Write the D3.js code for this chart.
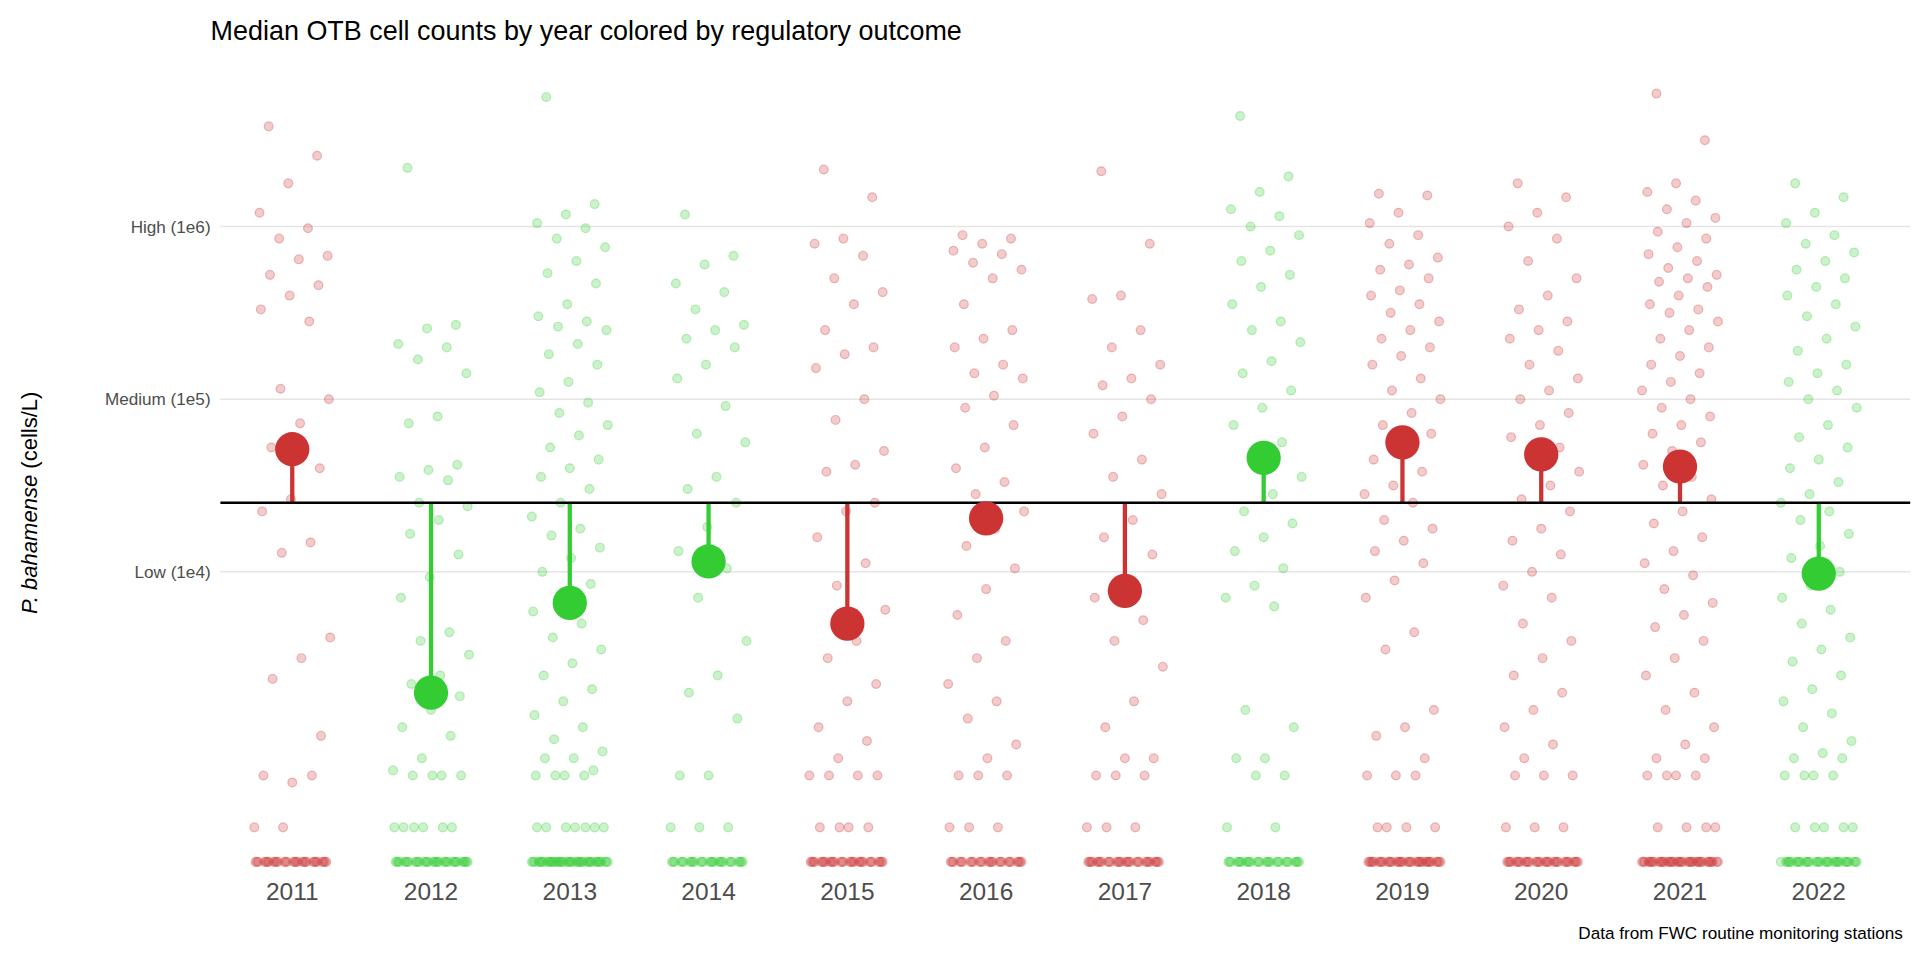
<!DOCTYPE html>
<html>
<head>
<meta charset="utf-8">
<script src="https://cdn.jsdelivr.net/npm/d3@7"></script>
<style>
  body { margin: 0; background: #fff; font-family: "Liberation Sans", Arial, sans-serif; }
</style>
</head>
<body>
<div id="chart"></div>
<script>
// anos e resultado regulatorio
const years = ["2011","2012","2013","2014","2015","2016","2017","2018","2019","2020","2021","2022"];
const outcome = ["red","green","green","green","red","red","red","green","red","red","red","green"];
// mediana em log10(celulas/L)
const medians = [4.71, 3.30, 3.82, 4.06, 3.70, 4.31, 3.89, 4.66, 4.75, 4.68, 4.61, 3.99];
const threshold = 4.40;
// zeros / valores baixos desenhados no fundo (quantidade por ano)
const zeroCounts = [30, 34, 44, 28, 30, 26, 30, 28, 36, 32, 40, 34];

// contagens individuais (log10 celulas/L)
const samples = {
  "2011": [6.58,6.41,6.25,6.08,5.99,5.93,5.83,5.81,5.72,5.66,5.60,5.52,5.45,5.06,5.00,4.86,4.72,4.60,4.42,4.35,4.17,4.11,3.62,3.50,3.38,3.05,2.78,2.82,2.82,2.52,2.52],
  "2012": [6.34,5.43,5.41,5.32,5.30,5.23,5.15,4.90,4.86,4.62,4.59,4.55,4.53,4.40,4.38,4.30,4.22,4.10,3.97,3.85,3.65,3.60,3.52,3.40,3.35,3.28,3.20,3.10,3.05,2.92,2.85,2.82,2.82,2.82,2.82,2.52,2.52,2.52,2.52,2.52,2.52],
  "2013": [6.75,6.13,6.07,6.02,5.99,5.93,5.88,5.80,5.73,5.67,5.55,5.48,5.45,5.42,5.40,5.32,5.26,5.20,5.10,5.04,4.98,4.92,4.85,4.79,4.72,4.65,4.60,4.55,4.48,4.40,4.32,4.25,4.21,4.14,4.08,4.00,3.93,3.85,3.77,3.70,3.62,3.55,3.47,3.40,3.32,3.25,3.17,3.10,3.03,2.96,2.92,2.92,2.85,2.82,2.82,2.82,2.82,2.52,2.52,2.52,2.52,2.52,2.52,2.52],
  "2014": [6.07,5.83,5.78,5.67,5.62,5.52,5.43,5.40,5.35,5.30,5.20,5.12,4.96,4.80,4.75,4.55,4.48,4.40,4.26,4.12,4.02,3.85,3.60,3.40,3.30,3.15,2.82,2.82,2.52,2.52,2.52],
  "2015": [6.33,6.17,5.93,5.90,5.83,5.70,5.62,5.55,5.40,5.30,5.26,5.18,5.00,4.88,4.70,4.62,4.58,4.40,4.35,4.20,4.05,3.92,3.78,3.60,3.50,3.35,3.25,3.10,3.02,2.92,2.82,2.82,2.82,2.82,2.52,2.52,2.52,2.52],
  "2016": [5.95,5.93,5.90,5.86,5.84,5.79,5.75,5.70,5.55,5.40,5.35,5.30,5.20,5.15,5.12,5.02,4.95,4.85,4.72,4.60,4.52,4.45,4.35,4.25,4.15,4.02,3.90,3.75,3.60,3.50,3.35,3.25,3.15,3.00,2.92,2.82,2.82,2.82,2.52,2.52,2.52],
  "2017": [6.32,5.90,5.60,5.58,5.40,5.30,5.20,5.12,5.08,5.00,4.90,4.80,4.65,4.55,4.45,4.30,4.20,4.10,3.95,3.85,3.72,3.60,3.45,3.25,3.10,2.92,2.92,2.82,2.82,2.82,2.52,2.52,2.52],
  "2018": [6.64,6.29,6.20,6.10,6.06,6.00,5.95,5.86,5.80,5.72,5.65,5.55,5.45,5.40,5.33,5.22,5.15,5.05,4.95,4.85,4.75,4.65,4.55,4.45,4.35,4.28,4.20,4.12,4.02,3.92,3.85,3.80,3.20,3.10,2.92,2.92,2.82,2.82,2.52,2.52],
  "2019": [6.19,6.18,6.08,6.02,5.95,5.90,5.82,5.78,5.75,5.70,5.63,5.60,5.55,5.50,5.45,5.40,5.35,5.30,5.25,5.20,5.12,5.05,5.00,4.92,4.85,4.80,4.72,4.65,4.58,4.50,4.45,4.40,4.30,4.25,4.18,4.12,4.05,3.95,3.85,3.65,3.55,3.20,3.10,3.05,2.92,2.82,2.82,2.82,2.52,2.52,2.52,2.52],
  "2020": [6.25,6.17,6.08,6.00,5.93,5.80,5.70,5.60,5.52,5.45,5.40,5.35,5.28,5.20,5.12,5.05,5.00,4.92,4.85,4.78,4.72,4.65,4.58,4.50,4.42,4.35,4.25,4.18,4.10,4.00,3.92,3.85,3.70,3.60,3.50,3.40,3.30,3.20,3.10,3.00,2.92,2.82,2.82,2.82,2.52,2.52,2.52],
  "2021": [6.77,6.50,6.25,6.20,6.15,6.10,6.05,6.02,5.97,5.93,5.88,5.84,5.80,5.76,5.72,5.70,5.68,5.65,5.60,5.55,5.52,5.50,5.45,5.40,5.35,5.30,5.25,5.20,5.15,5.10,5.05,5.00,4.95,4.90,4.85,4.80,4.75,4.70,4.62,4.55,4.50,4.42,4.35,4.28,4.20,4.12,4.05,3.98,3.90,3.82,3.75,3.68,3.60,3.50,3.40,3.30,3.20,3.10,3.00,2.92,2.92,2.82,2.82,2.82,2.82,2.52,2.52,2.52,2.52],
  "2022": [6.25,6.17,6.08,6.02,5.95,5.90,5.85,5.80,5.75,5.70,5.65,5.60,5.55,5.48,5.42,5.35,5.28,5.20,5.15,5.10,5.05,5.00,4.95,4.85,4.78,4.72,4.65,4.60,4.52,4.45,4.40,4.35,4.30,4.22,4.15,4.08,4.00,3.92,3.85,3.78,3.70,3.62,3.55,3.48,3.40,3.32,3.25,3.18,3.10,3.02,2.95,2.92,2.92,2.82,2.82,2.82,2.82,2.52,2.52,2.52,2.52,2.52]
};
const yTicks = [4, 5, 6];
const yTickLabels = ["Low (1e4)", "Medium (1e5)", "High (1e6)"];
const zeroLevel = 2.32;

const cores = { red: "#CC3333", green: "#33CC33" };

// desenhado em 1568x784 e escalado para 1920x960
const svg = d3.select("#chart").append("svg")
  .attr("width", 1920).attr("height", 960)
  .attr("viewBox", "0 0 1568 784");

const x = d3.scaleBand().domain(years).range([182, 1542]);
const y = d3.scaleLinear().domain([4, 6]).range([467, 185]);

// grade
svg.selectAll(".grid").data(yTicks).enter().append("line")
  .attr("x1", 180).attr("x2", 1560)
  .attr("y1", d => y(d)).attr("y2", d => y(d))
  .attr("stroke", "#e5e5e5").attr("stroke-width", 1.2);

svg.selectAll(".ytick").data(yTicks).enter().append("text")
  .attr("x", 172).attr("y", d => y(d) + 5)
  .attr("text-anchor", "end").attr("fill", "#4d4d4d")
  .style("font-size", "14px")
  .text((d, i) => yTickLabels[i]);

// deslocamento horizontal (jitter deterministico)
const jit = i => (((i * 37 + 11) % 59) / 58 - 0.5) * 62;

// pontos
years.forEach((yr, k) => {
  const vals = samples[yr].slice();
  for (let z = 0; z < zeroCounts[k]; z++) vals.push(zeroLevel);
  svg.append("g").selectAll("circle").data(vals).enter().append("circle")
    .attr("cx", (d, i) => x(yr) + x.bandwidth() / 2 + jit(i))
    .attr("cy", d => y(d))
    .attr("r", 3.6)
    .attr("fill", cores[outcome[k]])
    .attr("fill-opacity", 0.25)
    .attr("stroke", cores[outcome[k]])
    .attr("stroke-opacity", 0.3);
});

// segmentos da mediana
svg.selectAll(".seg").data(years).enter().append("line")
  .attr("x1", d => x(d) + x.bandwidth() / 2)
  .attr("x2", d => x(d) + x.bandwidth() / 2)
  .attr("y1", y(threshold))
  .attr("y2", (d, i) => y(medians[i]))
  .attr("stroke", (d, i) => cores[outcome[i]])
  .attr("stroke-width", 3.5);

// linha do limite
svg.append("line")
  .attr("x1", 180).attr("x2", 1560)
  .attr("y1", y(threshold)).attr("y2", y(threshold))
  .attr("stroke", "#000").attr("stroke-width", 2);

// medianas
svg.selectAll(".med").data(years).enter().append("circle")
  .attr("cx", d => x(d) + x.bandwidth() / 2)
  .attr("cy", (d, i) => y(medians[i]))
  .attr("r", 14)
  .attr("fill", (d, i) => cores[outcome[i]]);

// eixo x
svg.selectAll(".xlab").data(years).enter().append("text")
  .attr("x", d => x(d) + x.bandwidth() / 2)
  .attr("y", 735)
  .attr("text-anchor", "middle").attr("fill", "#4d4d4d")
  .style("font-size", "20px")
  .text(d => d);

// titulo do eixo y
svg.append("text")
  .attr("transform", "translate(30," + y(4.4) + ") rotate(-90)")
  .attr("text-anchor", "middle")
  .style("font-size", "18px")
  .html('<tspan font-style="italic">P. bahamense</tspan> (cells/L)');

// titulo
svg.append("text")
  .attr("x", 172).attr("y", 33)
  .style("font-size", "22px")
  .text("Median OTB cell counts by year colored by regulatory outcome");

// legenda da fonte
svg.append("text")
  .attr("x", 1554).attr("y", 767)
  .attr("text-anchor", "end")
  .style("font-size", "14px")
  .text("Data from FWC routine monitoring stations");
</script>
</body>
</html>
